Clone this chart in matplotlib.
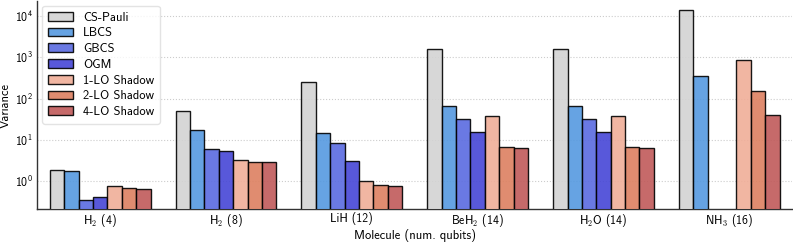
import numpy as np, matplotlib
matplotlib.use("Agg"); import matplotlib.pyplot as plt

molecules = [r"H$_\mathsf{2}$ (4)", r"H$_\mathsf{2}$ (8)", "LiH (12)",
             r"BeH$_\mathsf{2}$ (14)", r"H$_\mathsf{2}$O (14)", r"NH$_\mathsf{3}$ (16)"]
methods = ["CS-Pauli", "LBCS", "GBCS", "OGM", "1-LO Shadow", "2-LO Shadow", "4-LO Shadow"]
cs_pauli = [1.93, 50, 253, 1590, 1590, 13800]
lbcs     = [1.82, 17.2, 14.5, 66, 66, 347]
gbcs     = [0.36, 6.0, 8.3, 32.8, 32.8, np.nan]
ogm      = [0.41, 5.4, 3.05, 15.3, 15.3, np.nan]
lo1      = [0.77, 3.3, 1.0, 38, 38, 875]
lo2      = [0.69, 3.0, 0.8, 6.65, 6.65, 156]
lo4      = [0.65, 2.9, 0.78, 6.3, 6.3, 40]
series = [cs_pauli, lbcs, gbcs, ogm, lo1, lo2, lo4]
colors = ["#d3d3d3", "#5599e0", "#5a6be0", "#4646d6", "#f0ae98", "#dd8060", "#c05a5a"]

plt.rcParams.update({"font.family": ["cmss10", "DejaVu Sans"], "mathtext.fontset": "cm",
                     "axes.unicode_minus": False, "font.size": 9})
fig = plt.figure(figsize=(7.93, 2.44), dpi=100)
ax = fig.add_axes([0.047, 0.143, 0.952, 0.853])

x = np.arange(len(molecules)); w = 0.8/len(methods)
for i, (name, vals, c) in enumerate(zip(methods, series, colors)):
    ax.bar(x - 0.4 + w*(i+0.5), vals, width=w, color=c, edgecolor="black",
           linewidth=1.0, alpha=0.9, label=name, zorder=3)

ax.set_yscale("log"); ax.set_ylim(0.214, 2.3e4); ax.set_xlim(-0.5, 5.5)
ax.set_xticks(x); ax.set_xticklabels(molecules, fontsize=8.5)
ax.tick_params(axis="y", labelsize=8.5, which="major", length=0, pad=3)
ax.tick_params(axis="y", which="minor", length=0)
ax.tick_params(axis="x", length=0, pad=2)
ax.yaxis.grid(True, which="major", color="#cccccc", ls=":", lw=0.8, zorder=0)
ax.set_axisbelow(True)
for s in ["top", "right"]: ax.spines[s].set_visible(False)
for s in ["left", "bottom"]: ax.spines[s].set_color("#333333"); ax.spines[s].set_linewidth(1.0)
ax.set_ylabel("Variance", fontsize=9, labelpad=2)
ax.set_xlabel("Molecule (num. qubits)", fontsize=9, labelpad=0)
leg = ax.legend(loc="upper left", fontsize=9, frameon=True, fancybox=True, framealpha=0.8,
                edgecolor="#dddddd", handlelength=2.0, labelspacing=0.3, borderpad=0.45,
                borderaxespad=0.4)

plt.savefig("out.png", dpi=100)
